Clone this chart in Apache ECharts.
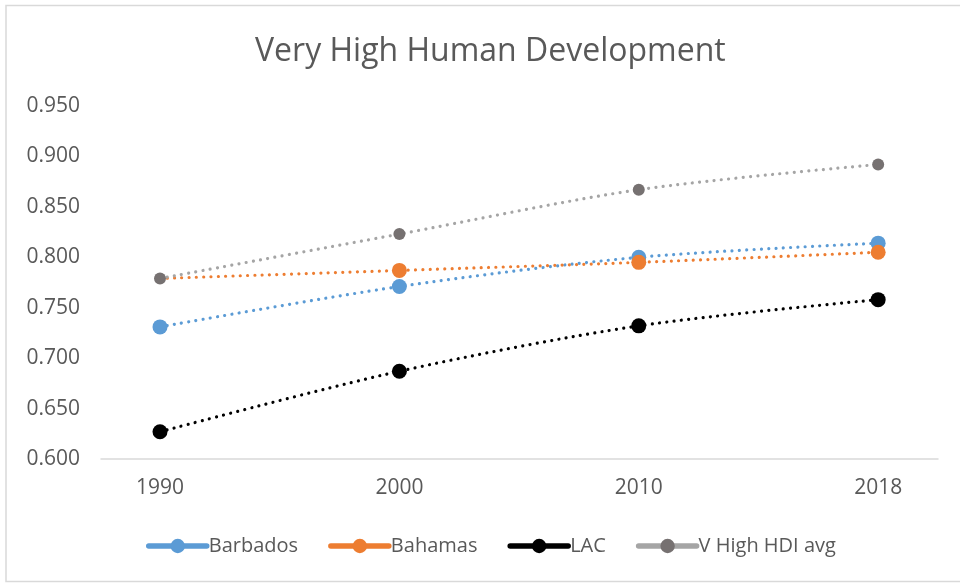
<!DOCTYPE html>
<html>
<head>
<meta charset="utf-8">
<title>Very High Human Development</title>
<script src="https://cdn.jsdelivr.net/npm/echarts@6/dist/echarts.min.js"></script>
<style>
  html, body { margin: 0; padding: 0; background: #ffffff; }
  #chart { width: 960px; height: 584px; }
</style>
</head>
<body>
<div id="chart"></div>
<script>
// HDI values by year
const years = ['1990', '2000', '2010', '2018'];
const barbados = [0.731, 0.771, 0.800, 0.814];
const bahamas = [0.779, 0.787, 0.795, 0.805];
const lac = [0.627, 0.687, 0.732, 0.758];
const vHighAvg = [0.779, 0.823, 0.867, 0.892];
const yTicks = [0.600, 0.650, 0.700, 0.750, 0.800, 0.850, 0.900, 0.950];

const FONT = '"Open Sans", "Liberation Sans", sans-serif';
const TEXT = '#595959';

function pairs(values, hideFirstMarker) {
  return values.map((v, i) => {
    const item = { value: [i, v] };
    if (hideFirstMarker && i === 0) item.symbolSize = 0;
    return item;
  });
}

function lineSeries(name, values, color, markerColor, size, hideFirst) {
  return {
    name: name,
    type: 'line',
    data: pairs(values, hideFirst),
    smooth: 0.3,
    symbol: 'circle',
    symbolSize: size,
    itemStyle: { color: markerColor },
    lineStyle: { color: color, width: 3.2, type: [0.01, 7.3], cap: 'round' },
    emphasis: { disabled: true },
    z: 2
  };
}

const chart = echarts.init(document.getElementById('chart'), null, { renderer: 'canvas' });

chart.setOption({
  animation: false,
  backgroundColor: '#ffffff',
  title: {
    text: 'Very High Human Development',
    left: 250,
    top: 31,
    textStyle: { fontFamily: FONT, fontSize: 32, fontWeight: 'normal', color: TEXT }
  },
  legend: {
    bottom: 23,
    left: 141,
    itemWidth: 58,
    itemHeight: 18,
    itemGap: 30,
    textStyle: { fontFamily: FONT, fontSize: 20, color: TEXT, padding: [0, 0, 0, -3] },
    lineStyle: { type: 'solid', width: 5.5, cap: 'round' },
    data: ['Barbados', 'Bahamas', 'LAC', 'V High HDI avg']
  },
  grid: { left: 101, right: 22, top: 106, bottom: 125, containLabel: false },
  xAxis: {
    type: 'value',
    min: -0.2465,
    max: 3.25,
    splitLine: { show: false },
    axisLine: { show: true, onZero: false, lineStyle: { color: '#d9d9d9', width: 1.5 } },
    axisTick: { show: false },
    axisLabel: {
      customValues: years.map((_, i) => i),
      formatter: v => years[Math.round(v)],
      margin: 19,
      fontFamily: FONT, fontSize: 21, color: TEXT
    }
  },
  yAxis: {
    type: 'value',
    min: 0.6,
    max: 0.95,
    interval: 0.05,
    splitLine: { show: false },
    axisLine: { show: false },
    axisTick: { show: false },
    axisLabel: {
      customValues: yTicks,
      formatter: v => v.toFixed(3),
      margin: 21,
      fontFamily: FONT, fontSize: 21, color: TEXT
    }
  },
  series: [
    lineSeries('Barbados', barbados, '#5B9BD5', '#5B9BD5', 15, false),
    lineSeries('Bahamas', bahamas, '#ED7D31', '#ED7D31', 15, true),
    lineSeries('LAC', lac, '#000000', '#000000', 15, false),
    lineSeries('V High HDI avg', vHighAvg, '#A5A5A5', '#767171', 12, false)
  ],
  graphic: [{
    type: 'rect',
    shape: { x: 6, y: 5.5, width: 980, height: 576 },
    style: { fill: 'none', stroke: '#d9d9d9', lineWidth: 1.5 },
    silent: true,
    z: 100
  }]
});
</script>
</body>
</html>
